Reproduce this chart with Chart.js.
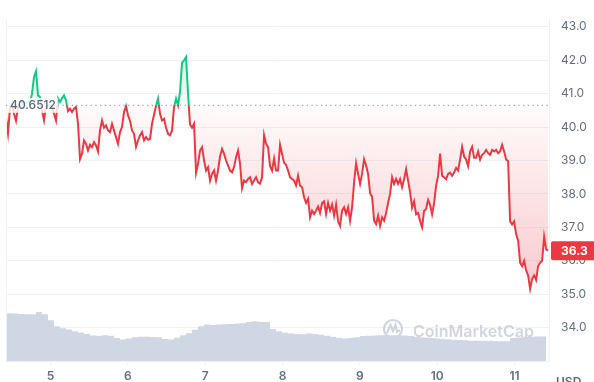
<!DOCTYPE html>
<html>
<head>
<meta charset="utf-8">
<script src="https://cdn.jsdelivr.net/npm/chart.js@4.4.0/dist/chart.umd.min.js"></script>
<style>
  html, body { margin: 0; padding: 0; background: #fff; }
  canvas { display: block; }
</style>
</head>
<body>
<canvas id="precio" width="594" height="382"></canvas>
<script>
// Datos (7 dias, precio en USD)
const startDay = 4.4245;          // inicio de la serie (dia del mes)
const priceStepDays = 0.025868;   // ~37 min entre puntos de precio
const volumeStepDays = 0.077604;  // ~112 min entre puntos de volumen
const refPrice = 40.6512;
const lastPrice = 36.3;
const dayTicks = [5, 6, 7, 8, 9, 10, 11];
const priceTicks = [34, 35, 36, 37, 38, 39, 40, 41, 42, 43];

const prices = [
  40.3, 39.82, 40.57, 40.72, 40.4, 40.19, 40.6, 40.7, 40.75, 40.72,
  40.7, 40.76, 40.75, 41.0, 41.5, 41.67, 40.95, 40.9, 40.5, 40.2,
  40.62, 40.66, 40.64, 40.66, 40.4, 40.2, 40.86, 40.75, 40.86, 40.95,
  40.8, 40.48, 40.55, 40.45, 40.55, 40.6, 40.1, 39.04, 39.2, 39.6,
  39.5, 39.3, 39.47, 39.4, 39.55, 39.45, 39.27, 39.9, 40.2, 39.98,
  40.05, 39.9, 39.85, 40.1, 39.9, 39.7, 39.5, 39.85, 40.0, 40.45,
  40.63, 40.35, 40.19, 39.9, 39.8, 39.41, 39.6, 39.75, 39.85, 39.6,
  39.7, 39.62, 39.65, 40.1, 40.37, 40.63, 40.86, 40.4, 40.2, 40.25,
  39.98, 39.8, 39.75, 39.9, 40.6, 40.85, 40.65, 41.06, 41.93, 42.0,
  42.1, 41.0, 40.08, 39.98, 40.1, 38.63, 38.9, 39.3, 39.4, 39.0,
  38.7, 38.8, 38.4, 38.6, 38.7, 38.4, 38.7, 39.12, 39.35, 39.2,
  39.0, 38.85, 38.7, 38.65, 38.8, 39.1, 39.3, 38.9, 38.17, 38.4,
  38.35, 38.45, 38.5, 38.3, 38.4, 38.5, 38.35, 38.31, 38.5, 39.76,
  39.5, 39.4, 38.83, 38.7, 39.06, 38.7, 38.7, 39.47, 39.2, 38.93,
  38.87, 38.7, 38.5, 38.45, 38.4, 38.25, 38.55, 38.25, 38.2, 37.9,
  37.73, 37.85, 37.3, 37.5, 37.4, 37.5, 37.62, 37.43, 37.73, 37.78,
  37.4, 37.73, 37.5, 37.68, 37.35, 37.68, 37.18, 37.04, 37.5, 37.6,
  37.4, 37.6, 37.2, 37.6, 38.34, 38.92, 38.6, 38.3, 38.6, 39.04,
  38.85, 38.6, 38.02, 37.92, 37.2, 37.1, 37.35, 37.04, 37.3, 37.2,
  37.43, 37.73, 38.0, 38.5, 38.3, 38.45, 38.3, 38.44, 38.2, 38.44,
  38.74, 38.4, 38.05, 37.59, 37.78, 37.39, 37.43, 37.18, 37.0, 37.5,
  37.55, 37.82, 37.67, 37.39, 37.72, 38.25, 38.54, 39.21, 38.54, 38.5,
  38.44, 38.6, 38.64, 38.54, 38.64, 38.78, 38.7, 39.03, 39.41, 39.12,
  39.03, 38.83, 39.27, 39.41, 39.08, 39.08, 39.27, 39.03, 39.17, 39.22,
  39.32, 39.22, 39.17, 39.32, 39.27, 39.32, 39.22, 39.27, 39.47, 39.27,
  39.03, 38.98, 37.18, 37.09, 37.18, 36.8, 36.6, 35.94, 35.84, 36.0,
  35.71, 35.56, 35.16, 35.46, 35.56, 35.42, 35.84, 35.94, 36.0, 36.72,
  36.34, 36.3
];

// volumen relativo (eje oculto)
const volumes = [
  49.3, 49, 48.5, 48.3, 48.3, 50.5, 48.3, 42, 36, 33.7,
  32.5, 30.7, 29.5, 28, 26.3, 26, 26.5, 26, 23.7, 22.3,
  23.3, 24.5, 25, 25, 24.8, 24.5, 22.7, 22.3, 24, 26.5,
  28.7, 32.3, 36, 37.7, 37.3, 37.7, 38, 38.3, 38.7, 39,
  40.3, 41, 40.3, 40.3, 33, 30.7, 29.3, 28.5, 27.8, 27.7,
  28.3, 28, 27, 26, 25, 24, 23.3, 23.7, 24.5, 25.7,
  26, 26.3, 26.5, 26.7, 26.7, 26.5, 26.3, 25.7, 25, 24.3,
  24, 23.5, 23, 22.5, 22, 21.7, 21.5, 21, 21, 21,
  21, 20.7, 20.5, 20.3, 23.7, 24.3, 25, 25, 25.2, 25.3,
  25
];

const verde = '#16c784';
const rojo = '#ea3943';
const gris = '#616e85';
const lineaGrid = '#eff2f5';

const pricePoints = prices.map((p, i) => ({ x: startDay + i * priceStepDays, y: p }));
const volumePoints = volumes.map((v, i) => ({ x: startDay + i * volumeStepDays, y: v }));

// Color de linea: verde sobre el precio de referencia, rojo debajo
function lineaGradiente(chart) {
    const { ctx, chartArea, scales } = chart;
    if (!chartArea) return rojo;
    const yRef = scales.y.getPixelForValue(refPrice);
    const s = (yRef - chartArea.top) / (chartArea.bottom - chartArea.top);
    const g = ctx.createLinearGradient(0, chartArea.top, 0, chartArea.bottom);
    g.addColorStop(0, verde);
    g.addColorStop(s, verde);
    g.addColorStop(s, rojo);
    g.addColorStop(1, rojo);
    return g;
}

function rellenoGradiente(chart) {
    const { ctx, chartArea, scales } = chart;
    if (!chartArea) return 'transparent';
    const yRef = scales.y.getPixelForValue(refPrice);
    const s = (yRef - chartArea.top) / (chartArea.bottom - chartArea.top);
    const g = ctx.createLinearGradient(0, chartArea.top, 0, chartArea.bottom);
    g.addColorStop(0, 'rgba(22,199,132,0.35)');
    g.addColorStop(s, 'rgba(22,199,132,0.03)');
    g.addColorStop(s, 'rgba(234,57,67,0.02)');
    g.addColorStop(1, 'rgba(234,57,67,0.36)');
    return g;
}

// Marca de agua (debajo de los datos)
const marcaAgua = {
    id: 'marcaAgua',
    beforeDatasetsDraw(chart) {
        const { ctx, chartArea } = chart;
        const cx = chartArea.right - 156, cy = chartArea.bottom - 32;
        ctx.save();
        ctx.strokeStyle = 'rgba(176,186,204,0.6)';
        ctx.lineWidth = 2.2;
        ctx.beginPath();
        ctx.arc(cx, cy, 9, 0, Math.PI * 2);
        ctx.stroke();
        ctx.beginPath();
        ctx.moveTo(cx - 6, cy + 4);
        ctx.lineTo(cx - 2.5, cy - 4);
        ctx.lineTo(cx, cy + 2);
        ctx.lineTo(cx + 2.5, cy - 4);
        ctx.lineTo(cx + 4, cy + 3);
        ctx.lineTo(cx + 7, cy + 1);
        ctx.stroke();
        ctx.fillStyle = 'rgba(176,186,204,0.6)';
        ctx.font = '600 16px Inter';
        ctx.textBaseline = 'alphabetic';
        ctx.textAlign = 'left';
        ctx.fillText('CoinMarketCap', cx + 20, cy + 8);
        ctx.restore();
    }
};

// Linea de referencia, bordes y etiquetas
const extras = {
    id: 'extras',
    afterDraw(chart) {
        const { ctx, chartArea, scales } = chart;
        const yRef = scales.y.getPixelForValue(refPrice);
        ctx.save();
        // borde izquierdo
        ctx.strokeStyle = lineaGrid;
        ctx.lineWidth = 1;
        ctx.beginPath();
        ctx.moveTo(chartArea.left + 0.5, chartArea.top);
        ctx.lineTo(chartArea.left + 0.5, chartArea.bottom);
        ctx.stroke();

        // linea punteada
        ctx.strokeStyle = '#a1a9ba';
        ctx.lineWidth = 1.3;
        ctx.setLineDash([1.3, 3.4]);
        ctx.beginPath();
        ctx.moveTo(chartArea.left, yRef);
        ctx.lineTo(chartArea.right, yRef);
        ctx.stroke();
        ctx.setLineDash([]);

        // etiqueta del precio de referencia
        ctx.fillStyle = 'rgba(255,255,255,0.82)';
        ctx.fillRect(chartArea.left + 2, yRef - 7.5, 50, 15);
        ctx.fillStyle = '#58667e';
        ctx.font = '500 12px Inter';
        ctx.textBaseline = 'middle';
        ctx.textAlign = 'left';
        ctx.fillText(refPrice.toString(), chartArea.left + 4, yRef);

        // etiqueta del ultimo precio
        const yLast = scales.y.getPixelForValue(lastPrice);
        ctx.fillStyle = rojo;
        ctx.beginPath();
        ctx.roundRect(chartArea.right + 2, yLast - 9.5, 60, 19, 2);
        ctx.fill();
        ctx.fillStyle = '#fff';
        ctx.font = '700 12px Inter';
        ctx.fillText(lastPrice.toFixed(1), chartArea.right + 12, yLast + 0.5);

        // moneda
        ctx.fillStyle = '#58667e';
        ctx.font = '600 12px Inter';
        ctx.textBaseline = 'alphabetic';
        ctx.fillText('USD', chartArea.right + 7, chart.height + 4);
        ctx.restore();
    }
};

const ctx = document.getElementById('precio').getContext('2d');
new Chart(ctx, {
    type: 'line',
    data: {
        datasets: [{
            label: 'Precio',
            data: pricePoints,
            yAxisID: 'y',
            borderWidth: 2,
            borderColor: c => lineaGradiente(c.chart),
            backgroundColor: c => rellenoGradiente(c.chart),
            fill: { target: { value: refPrice } },
            pointRadius: 0,
            tension: 0,
            order: 0
        }, {
            label: 'Volumen',
            data: volumePoints,
            yAxisID: 'vol',
            borderWidth: 0,
            backgroundColor: '#cfd6e4',
            fill: 'origin',
            pointRadius: 0,
            stepped: true,
            order: 1
        }]
    },
    options: {
        responsive: false,
        animation: false,
        layout: { padding: { left: 6, top: 8, right: 0, bottom: 0 } },
        plugins: {
            legend: { display: false },
            tooltip: { enabled: false }
        },
        scales: {
            x: {
                type: 'linear',
                min: startDay,
                max: 11.446,
                afterBuildTicks: axis => { axis.ticks = dayTicks.map(v => ({ value: v })); },
                afterFit: s => { s.height = 21; },
                ticks: {
                    color: gris,
                    font: { family: 'Inter', size: 12, weight: '600' },
                    padding: 4,
                    maxRotation: 0,
                    autoSkip: false
                },
                grid: { drawOnChartArea: false, drawTicks: true, tickLength: 4, color: lineaGrid },
                border: { color: lineaGrid }
            },
            y: {
                position: 'right',
                min: 33,
                max: 43.23,
                afterBuildTicks: axis => { axis.ticks = priceTicks.map(v => ({ value: v })); },
                afterFit: s => { s.width = 45; },
                ticks: {
                    color: gris,
                    font: { family: 'Inter', size: 12 },
                    padding: 12,
                    callback: v => v.toFixed(1)
                },
                grid: { color: lineaGrid, drawTicks: false },
                border: { color: lineaGrid }
            },
            vol: {
                display: false,
                min: 0,
                max: 353
            }
        }
    },
    plugins: [marcaAgua, extras]
});
</script>
</body>
</html>
